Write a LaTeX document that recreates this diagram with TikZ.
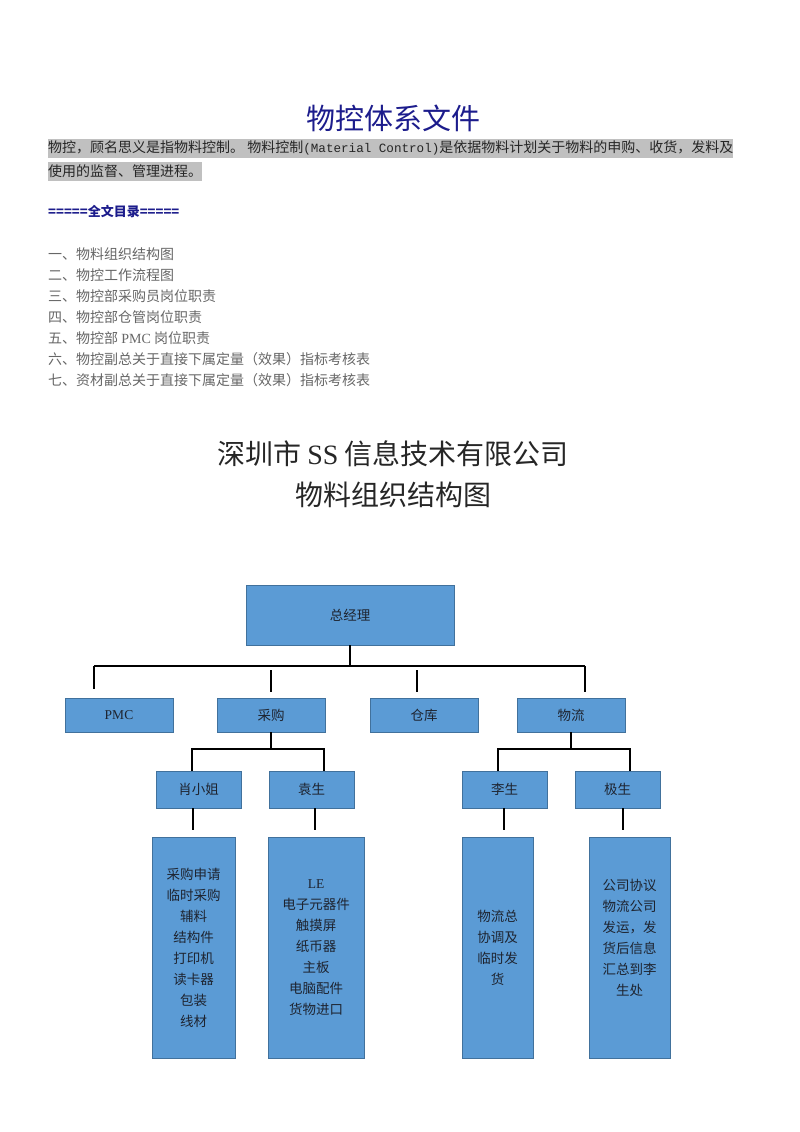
\documentclass[tikz,border=0pt]{standalone}
\usepackage{fontspec}
\setmainfont{Liberation Serif}
\newfontfamily\cjk{Noto Sans CJK SC}
\newfontfamily\monof{Liberation Mono}
\usetikzlibrary{calc}
\definecolor{boxfill}{HTML}{5B9BD5}
\definecolor{boxline}{HTML}{41719C}
\definecolor{navyc}{HTML}{1C1C8C}
\definecolor{hlgray}{HTML}{C0C0C0}
\definecolor{tocgray}{HTML}{666666}
\definecolor{boxtext}{HTML}{1E2430}
\begin{document}
\begin{tikzpicture}[x=1pt,y=-1pt,
  box/.style={draw=boxline, fill=boxfill, line width=0.8pt, inner sep=0pt,
    font=\cjk\fontsize{13.5}{21}\selectfont, text=boxtext, align=center},
  conn/.style={draw=black, line width=1.5pt},
  tocitem/.style={anchor=west, inner sep=0pt, text=tocgray, font=\cjk\fontsize{14}{14}\selectfont},
  bigtitle/.style={inner sep=0pt, text=black!85, font=\cjk\fontsize{28}{28}\selectfont}]
\useasboundingbox (0,0) rectangle (800,1132);

% ---- header ----
\node[inner sep=0pt, text=navyc, font=\cjk\fontsize{29}{29}\selectfont] (title) at (393,118) {物控体系文件};
\node[anchor=west, fill=hlgray, inner sep=0pt, minimum height=19, font=\cjk\fontsize{14}{14}\selectfont, text=black!85] (intro1) at (48,148)
  {物控，顾名思义是指物料控制。 物料控制{\monof\fontsize{12.6}{14}\selectfont(Material Control)}是依据物料计划关于物料的申购、收货，发料及};
\node[anchor=west, fill=hlgray, inner sep=0pt, minimum height=19, font=\cjk\fontsize{14}{14}\selectfont, text=black!85] (intro2) at (48,171)
  {使用的监督、管理进程。};
\node[anchor=west, inner sep=0pt, text=navyc, font=\cjk\bfseries\fontsize{13}{13}\selectfont] (toch) at (48,212) {=====全文目录=====};
\node[tocitem] (t1) at (48,254) {一、物料组织结构图};
\node[tocitem] (t2) at (48,275) {二、物控工作流程图};
\node[tocitem] (t3) at (48,296) {三、物控部采购员岗位职责};
\node[tocitem] (t4) at (48,317) {四、物控部仓管岗位职责};
\node[tocitem] (t5) at (48,338) {五、物控部 {\rmfamily PMC} 岗位职责};
\node[tocitem] (t6) at (48,359) {六、物控副总关于直接下属定量（效果）指标考核表};
\node[tocitem] (t7) at (48,380) {七、资材副总关于直接下属定量（效果）指标考核表};

\node[bigtitle] (co) at (393,454) {深圳市 {\rmfamily SS} 信息技术有限公司};
\node[bigtitle] (chart) at (393,495) {物料组织结构图};

% ---- chart boxes ----
\node[box, minimum width=208, minimum height=60] (gm) at (350,615) {总经理};
\node[box, minimum width=108, minimum height=34] (pmc) at (119,715) {\rmfamily PMC};
\node[box, minimum width=108, minimum height=34] (cg) at (271,715) {采购};
\node[box, minimum width=108, minimum height=34] (ck) at (424,715) {仓库};
\node[box, minimum width=108, minimum height=34] (wl) at (571,715) {物流};

\node[box, minimum width=85, minimum height=37] (xiao) at (198.5,789.5) {肖小姐};
\node[box, minimum width=85, minimum height=37] (yuan) at (311.5,789.5) {袁生};
\node[box, minimum width=85, minimum height=37] (li) at (504.5,789.5) {李生};
\node[box, minimum width=85, minimum height=37] (ji) at (617.5,789.5) {极生};

\node[box, minimum width=83, minimum height=221] (xd) at (193.5,947.5)
  {采购申请\\临时采购\\辅料\\结构件\\打印机\\读卡器\\包装\\线材};
\node[box, minimum width=96, minimum height=221] (yd) at (316,947.5)
  {{\rmfamily LE}\\电子元器件\\触摸屏\\纸币器\\主板\\电脑配件\\货物进口};
\node[box, minimum width=71, minimum height=221] (ld) at (497.5,947.5)
  {物流总\\协调及\\临时发\\货};
\node[box, minimum width=81, minimum height=221] (jd) at (629.5,947.5)
  {公司协议\\物流公司\\发运，发\\货后信息\\汇总到李\\生处\\\mbox{}};

% ---- connectors level 1 ----
\coordinate (bL) at (94,666);
\coordinate (bR) at (585,666);
\draw[conn] (gm.south) -- (gm.south |- bL);
\draw[conn] (bL) -- (bR);
\draw[conn] (bL) -- ($(bL |- pmc.north)+(0,-9)$);
\draw[conn] ($(cg.north |- bL)+(0,4)$) -- ($(cg.north)+(0,-6)$);
\draw[conn] ($(ck.north |- bL)+(-7,4)$) -- ($(ck.north)+(-7,-6)$);
\draw[conn] (bR) -- ($(bR |- wl.north)+(0,-6)$);

% ---- connectors level 2 ----
\coordinate (c1) at (192,749);
\coordinate (c2) at (324,749);
\draw[conn] (cg.south) -- (cg.south |- c1);
\draw[conn] (c1 |- xiao.north) -- (c1) -- (c2) -- (c2 |- yuan.north);
\coordinate (d1) at (498,749);
\coordinate (d2) at (630,749);
\draw[conn] (wl.south) -- (wl.south |- d1);
\draw[conn] (d1 |- li.north) -- (d1) -- (d2) -- (d2 |- ji.north);

% ---- connectors level 3 ----
\draw[conn] ($(xiao.south -| xd.north)+(-0.5,0)$) -- ($(xd.north)+(-0.5,-7)$);
\draw[conn] ($(yuan.south -| yd.north)+(-1,0)$) -- ($(yd.north)+(-1,-7)$);
\draw[conn] ($(li.south)+(-0.5,0)$) -- ($(li.south |- ld.north)+(-0.5,-7)$);
\draw[conn] ($(ji.south)+(5.5,0)$) -- ($(ji.south |- jd.north)+(5.5,-7)$);
\end{tikzpicture}
\end{document}
